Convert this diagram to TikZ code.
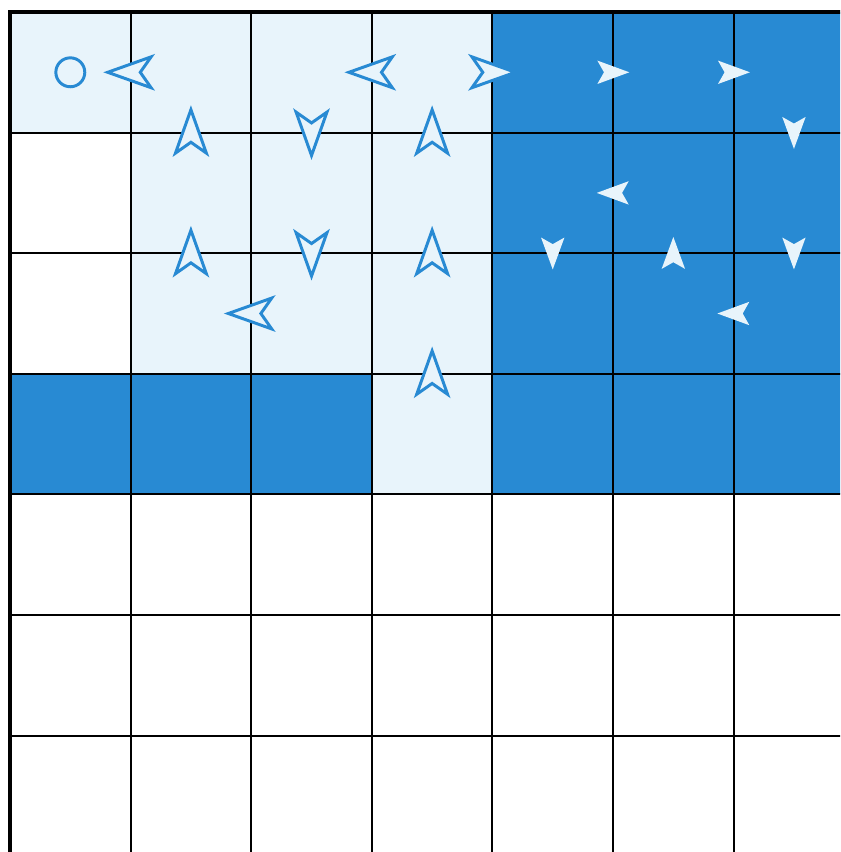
\documentclass[tikz,border=0pt]{standalone}
\usepackage{xcolor}
\usepackage{tikz}
\usetikzlibrary{positioning}
\definecolor{cellblue}{RGB}{40,138,211}
\definecolor{celllight}{RGB}{232,244,251}

\begin{document}
\begin{tikzpicture}[
  gridline/.style={line width=0.47pt, black},
  border/.style={line width=1.1pt, black},
  startmark/.style={draw=cellblue, circle, line width=0.7pt, minimum size=0.24cm,
                    inner sep=0pt},
  openarrow/.pic={\draw[cellblue, line width=0.7pt, fill=celllight, line join=miter]
      (0.19,0) -- (-0.17,0.128) -- (-0.08,0) -- (-0.17,-0.128) -- cycle;},
  fullarrow/.pic={\fill[celllight]
      (0.135,0) -- (-0.13,0.097) -- (-0.075,0) -- (-0.13,-0.097) -- cycle;},
]
\useasboundingbox (-0.083,-6.965) rectangle (6.882,0.0995);
\clip (-0.083,-6.965) rectangle (6.882,0.0995);

% Visited cells (light)
\foreach \c/\r in {0/0,1/0,2/0,3/0,1/1,2/1,3/1,1/2,2/2,3/2,3/3}
  \fill[celllight] (\c,-\r) rectangle ++(1,-1);

% Closed cells (dark)
\foreach \c/\r in {4/0,5/0,6/0,4/1,5/1,6/1,4/2,5/2,6/2,0/3,1/3,2/3,4/3,5/3,6/3}
  \fill[cellblue] (\c,-\r) rectangle ++(1,-1);

% Grid lines
\foreach \k in {1,...,7} {
  \draw[gridline] (\k,0) -- (\k,-7.2);
  \draw[gridline] (0,-\k) -- (7.2,-\k);
}
\draw[border] (0,-7.2) -- (0,0) -- (7.2,0);

% Start cell
\node[startmark] (start) at (0.5,-0.5) {};

% Arrows on visited cells
\foreach \x/\y/\a in {1/-0.5/180, 3/-0.5/180, 4/-0.5/0,
                      1.5/-1/90, 2.5/-1/270, 3.5/-1/90,
                      1.5/-2/90, 2.5/-2/270, 3.5/-2/90,
                      2/-2.5/180, 3.5/-3/90}
  \pic[rotate=\a] at (\x,\y) {openarrow};

% Arrows on closed cells
\foreach \x/\y/\a in {5/-0.5/0, 6/-0.5/0, 6.5/-1/270, 5/-1.5/180,
                      4.5/-2/270, 5.5/-2/90, 6.5/-2/270, 6/-2.5/180}
  \pic[rotate=\a] at (\x,\y) {fullarrow};
\end{tikzpicture}
\end{document}
